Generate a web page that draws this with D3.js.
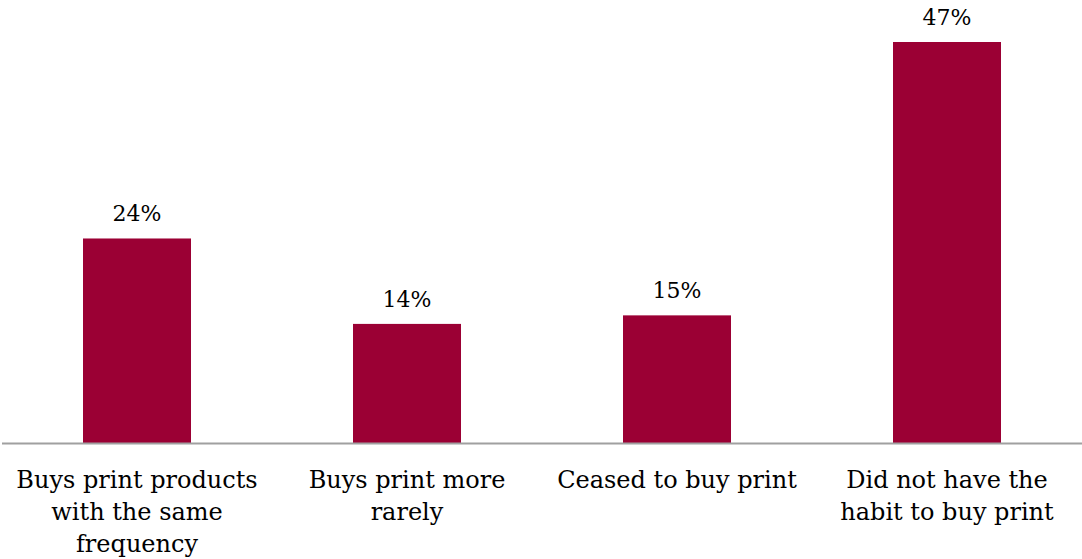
<!DOCTYPE html>
<html>
<head>
<meta charset="utf-8">
<script src="https://cdnjs.cloudflare.com/ajax/libs/d3/7.8.5/d3.min.js"></script>
<style>
  body { margin: 0; background: #fff; }
</style>
</head>
<body>
<div id="chart"></div>
<script>
var categories = [
  "Buys print products with the same frequency",
  "Buys print more rarely",
  "Ceased to buy print",
  "Did not have the habit to buy print"
];
var values = [24, 14, 15, 47];

var width = 1082;
var height = 559;
var baseline = 443.5;
var font = "'DejaVu Serif', 'Liberation Serif', serif";
var color_bar = "#9b0034";

var svg = d3.select("#chart")
  .append("svg")
  .attr("width", width)
  .attr("height", height);

var x = d3.scaleBand()
  .domain(categories)
  .range([2, 1082])
  .paddingInner(0.6)
  .paddingOuter(0.3);

var y = d3.scaleLinear()
  .domain([0, 47])
  .range([baseline, 42]);

//bars
svg.selectAll("rect.bar")
  .data(values)
  .enter()
  .append("rect")
  .attr("class", "bar")
  .attr("x", (d, i) => x(categories[i]))
  .attr("y", d => y(d))
  .attr("width", x.bandwidth())
  .attr("height", d => y(0) - y(d))
  .style("fill", color_bar);

//value labels
svg.selectAll("text.val")
  .data(values)
  .enter()
  .append("text")
  .attr("class", "val")
  .attr("x", (d, i) => x(categories[i]) + x.bandwidth() / 2)
  .attr("y", d => y(d) - 17)
  .attr("text-anchor", "middle")
  .style("font-family", font)
  .style("font-size", "22px")
  .style("fill", "#000")
  .text(d => d + "%");

//axis line
svg.append("line")
  .attr("x1", 2)
  .attr("x2", width)
  .attr("y1", baseline)
  .attr("y2", baseline)
  .style("stroke", "#a0a0a0")
  .style("stroke-width", 2);

//category labels, wrapped
function wrap(label, maxW, textEl) {
  var words = label.split(" ");
  var lines = [];
  var line = [];
  words.forEach(function(w) {
    line.push(w);
    textEl.text(line.join(" "));
    if (textEl.node().getComputedTextLength() > maxW && line.length > 1) {
      line.pop();
      lines.push(line.join(" "));
      line = [w];
    }
  });
  lines.push(line.join(" "));
  textEl.text(null);
  return lines;
}

categories.forEach(function(c) {
  var t = svg.append("text")
    .attr("text-anchor", "middle")
    .style("font-family", font)
    .style("font-size", "24px")
    .style("fill", "#000");
  var lines = wrap(c, 250, t);
  lines.forEach(function(l, j) {
    t.append("tspan")
      .attr("x", x(c) + x.bandwidth() / 2)
      .attr("y", 488 + j * 32)
      .text(l);
  });
});
</script>
</body>
</html>
